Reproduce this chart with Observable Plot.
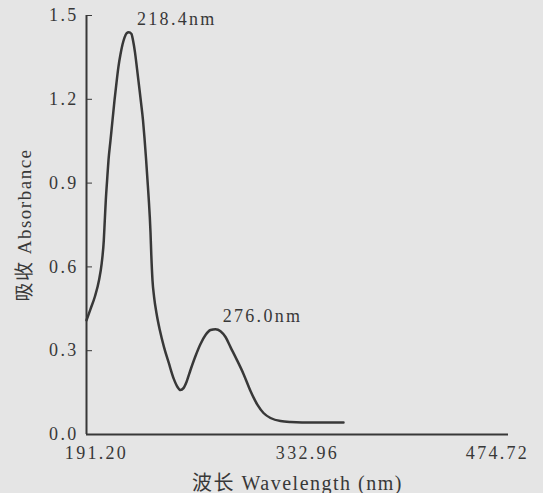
<!DOCTYPE html>
<html><head><meta charset="utf-8">
<script src="https://cdn.jsdelivr.net/npm/d3@7"></script>
<script src="https://cdn.jsdelivr.net/npm/@observablehq/plot@0.6"></script>
<style>
html,body{margin:0;padding:0;background:#e5e5e5;}
#chart svg{display:block;}
g[aria-label="y-axis tick label"] text, g[aria-label="x-axis tick label"] text, .tk text{letter-spacing:2.3px;}
g[aria-label="y-axis label"] text, g[aria-label="x-axis label"] text{letter-spacing:1.5px;}
</style></head><body><div id="chart"></div>
<script>
const wavelength = [191.20,193.89,196.91,199.60,201.41,202.82,203.49,204.17,205.04,205.98,207.32,208.67,210.01,211.36,212.70,214.04,215.39,216.73,218.07,219.62,221.43,222.44,223.78,225.13,226.47,227.82,229.16,230.17,231.18,232.18,233.06,233.73,234.20,234.74,235.54,236.62,238.23,240.45,243.27,246.49,249.85,252.34,254.35,256.37,258.39,261.07,264.44,267.80,271.16,274.52,277.88,281.24,284.60,287.95,291.98,296.68,301.38,306.09,310.12,314.82,321.54,328.26,343.71,363.87];
const absorbance = [0.409,0.449,0.495,0.552,0.613,0.695,0.767,0.839,0.910,0.982,1.053,1.125,1.196,1.260,1.318,1.361,1.396,1.421,1.436,1.440,1.434,1.411,1.368,1.310,1.250,1.189,1.125,1.061,0.989,0.910,0.839,0.778,0.724,0.642,0.552,0.492,0.434,0.374,0.313,0.256,0.199,0.170,0.159,0.166,0.188,0.231,0.281,0.324,0.356,0.374,0.377,0.370,0.349,0.313,0.270,0.217,0.156,0.106,0.077,0.059,0.048,0.045,0.043,0.043];
const peakWavelength = [218.4, 276.0];
const peakAbsorbance = [1.44, 0.377];
const peakLabels = ["218.4nm", "276.0nm"];
const xTicks = [191.20, 332.96, 474.72];
const xTickLabels = ["191.20", "332.96", "474.72"];
const yTicks = [0, 0.3, 0.6, 0.9, 1.2, 1.5];
const yTickLabels = ["0.0", "0.3", "0.6", "0.9", "1.2", "1.5"];

const spectrum = wavelength.map((w, i) => ({w, a: absorbance[i]}));
const peaks = peakWavelength.map((w, i) => ({w, a: peakAbsorbance[i], label: peakLabels[i]}));
const ink = "#383838";

const chart = Plot.plot({
  width: 543,
  height: 493,
  marginLeft: 86,
  marginRight: 35,
  marginTop: 15,
  marginBottom: 59,
  style: {background: "#e5e5e5", fontFamily: "'Liberation Serif', 'Noto Sans CJK SC', serif", fontSize: "18px", color: ink},
  x: {domain: [191.2, 474.72]},
  y: {domain: [0, 1.5]},
  marks: [
    Plot.axisY(yTicks, {tickSize: -6, tickPadding: 14, stroke: ink, fill: ink, fontSize: 18, tickFormat: (d, i) => yTickLabels[i], label: null}),
    Plot.axisY({ticks: [], tickSize: 0, label: "吸收 Absorbance", labelAnchor: "center", labelArrow: "none", labelOffset: 69, fontSize: 19, fill: ink}),
    Plot.axisX(xTicks.slice(0, 2), {tickSize: 0, tickPadding: 12, dx: 10, fill: ink, fontSize: 18, tickFormat: (d, i) => xTickLabels[i], label: null}),
    Plot.axisX(xTicks.slice(2), {tickSize: 0, tickPadding: 12, dx: -11, fill: ink, fontSize: 18, tickFormat: () => xTickLabels[2], label: null}),
    Plot.axisX({ticks: [], tickSize: 0, label: "波长 Wavelength (nm)", labelAnchor: "center", labelArrow: "none", labelOffset: 55, fontSize: 20, fill: ink}),
    Plot.ruleX([191.2], {stroke: ink, strokeWidth: 2}),
    Plot.ruleY([0], {stroke: ink, strokeWidth: 2}),
    Plot.line(spectrum, {x: "w", y: "a", stroke: ink, strokeWidth: 2.5, curve: "monotone-x"}),
    Plot.text(peaks, {x: "w", y: "a", text: "label", textAnchor: "start", dx: 10, dy: -13, fill: ink, fontSize: 18, className: "tk"})
  ]
});
document.getElementById("chart").appendChild(chart);
</script>
</body></html>
